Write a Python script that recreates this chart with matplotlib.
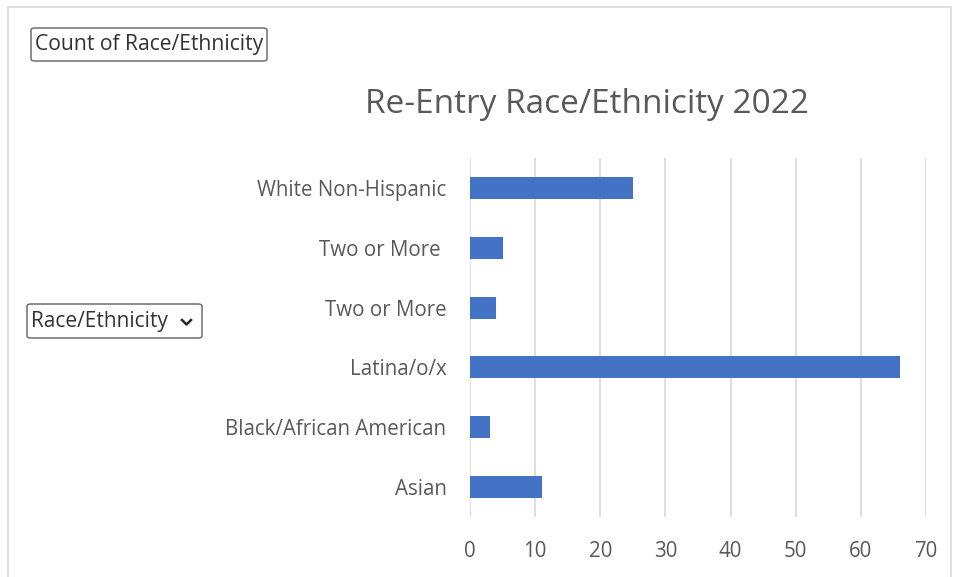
import matplotlib
matplotlib.use("Agg")
import matplotlib.pyplot as plt
from matplotlib.patches import FancyBboxPatch, Rectangle
from matplotlib.lines import Line2D

categories = ["Asian", "Black/African American", "Latina/o/x",
              "Two or More", "Two or More ", "White Non-Hispanic"]
counts = [11, 3, 66, 4, 5, 25]
x_ticks = [0, 10, 20, 30, 40, 50, 60, 70]
title = "Re-Entry Race/Ethnicity 2022"
value_button = "Count of Race/Ethnicity"
axis_button = "Race/Ethnicity"

W, H = 956, 577
fig = plt.figure(figsize=(W / 100, H / 100), dpi=100)
plt.rcParams["font.family"] = ["Open Sans", "DejaVu Sans"]

TXT = "#595959"
BAR = "#4472C4"
GRID = "#D9D9D9"

def fx(px):
    return px / W

def fy(py):
    return 1 - py / H

# outer chart frame
fig.patches.append(Rectangle((fx(8), fy(580)), fx(951) - fx(8), fy(7) - fy(580),
                             transform=fig.transFigure, fill=False,
                             edgecolor="#D9D9D9", linewidth=1.2))

ax = fig.add_axes([fx(470), fy(517), fx(926) - fx(470), fy(158) - fy(517)])
ypos = list(range(len(categories)))
ax.barh(ypos, counts, height=0.37, color=BAR, zorder=3)
ax.set_xlim(0, 70)
ax.set_ylim(-0.5, len(categories) - 0.5)
ax.set_xticks(x_ticks)
ax.set_xticklabels([str(t) for t in x_ticks])
ax.set_yticks(ypos)
ax.set_yticklabels(categories)
ax.grid(axis="x", color=GRID, linewidth=1.2, zorder=0)
for s in ax.spines.values():
    s.set_visible(False)
ax.tick_params(axis="both", length=0, colors=TXT, labelsize=14.8)
ax.tick_params(axis="y", pad=17)
ax.tick_params(axis="x", pad=17)

fig.text(fx(587), fy(104.5), title, ha="center", va="center",
         fontsize=24, color=TXT)

# field buttons
def button(x0, y0, x1, y1):
    fig.patches.append(FancyBboxPatch((fx(x0), fy(y1)), fx(x1) - fx(x0), fy(y0) - fy(y1),
                                      boxstyle="round,pad=0,rounding_size=0.004",
                                      transform=fig.transFigure, fill=True,
                                      facecolor="white", edgecolor="#6E6E6E",
                                      linewidth=1.1))

button(31, 28, 267, 61)
fig.text(fx(35), fy(44.5), value_button, ha="left", va="center",
         fontsize=15.2, color="#333333")

button(27, 304, 202, 338)
fig.text(fx(31), fy(321), axis_button, ha="left", va="center",
         fontsize=15.0, color="#333333")
fig.lines.append(Line2D([fx(182), fx(186.5), fx(191)], [fy(320), fy(324.5), fy(320)],
                        transform=fig.transFigure, color="#262626", linewidth=1.8))

fig.savefig("out.png", dpi=100)
